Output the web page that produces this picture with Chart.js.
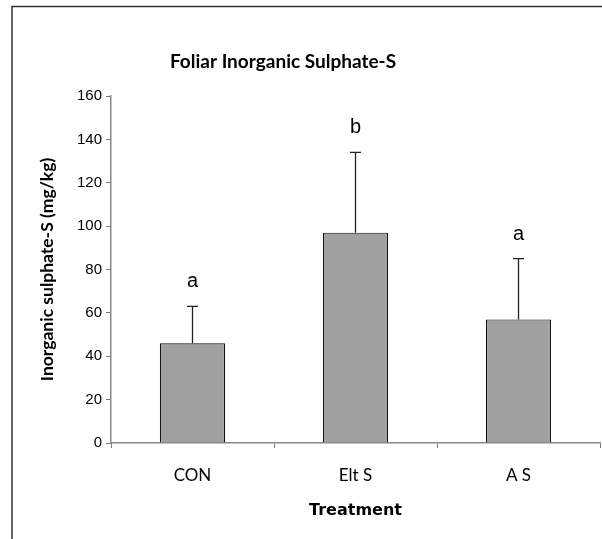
<!DOCTYPE html>
<html>
<head>
<meta charset="utf-8">
<script src="https://cdn.jsdelivr.net/npm/chart.js@4.4.1/dist/chart.umd.min.js"></script>
<style>
  html, body { margin: 0; padding: 0; background: #fff; }
  #wrap { width: 602px; height: 539px; }
</style>
</head>
<body>
<div id="wrap"><canvas id="bars" width="602" height="539"></canvas></div>
<script>
// data
var treatments = ['CON', 'Elt S', 'A S'];
var sulphate = [46, 97, 57];
var upperError = [17, 37, 28];
var letters = ['a', 'b', 'a'];

var uiFont = 'Lato, "Open Sans", sans-serif';
var tickFont = '"Liberation Sans", Arial, sans-serif';

// frame, title, error bars and significance letters
var extras = {
    id: 'extras',
    afterDatasetsDraw: function (chart) {
        var c = chart.ctx;
        var y = chart.scales.y;
        var meta = chart.getDatasetMeta(0);
        c.save();
        c.strokeStyle = '#222';
        c.lineWidth = 1.3;
        meta.data.forEach(function (bar, i) {
            var top = y.getPixelForValue(sulphate[i] + upperError[i]);
            var base = y.getPixelForValue(sulphate[i]);
            c.beginPath();
            c.moveTo(bar.x, base);
            c.lineTo(bar.x, top);
            c.moveTo(bar.x - 5.5, top);
            c.lineTo(bar.x + 5.5, top);
            c.stroke();
            c.fillStyle = '#000';
            c.font = '20px ' + tickFont;
            c.textAlign = 'center';
            c.textBaseline = 'alphabetic';
            c.fillText(letters[i], bar.x, top - 19);
        });
        c.restore();
    },
    afterDraw: function (chart) {
        var c = chart.ctx;
        c.save();
        c.strokeStyle = '#333';
        c.lineWidth = 1.5;
        c.beginPath();
        c.moveTo(12, 539);
        c.lineTo(12, 6.5);
        c.lineTo(602, 6.5);
        c.stroke();
        c.fillStyle = '#000';
        c.font = 'bold 19px ' + uiFont;
        c.textAlign = 'center';
        c.textBaseline = 'alphabetic';
        c.fillText('Foliar Inorganic Sulphate-S', 283, 68);
        c.restore();
    }
};

new Chart(document.getElementById('bars').getContext('2d'), {
    type: 'bar',
    data: {
        labels: treatments,
        datasets: [{
            data: sulphate,
            backgroundColor: '#a0a0a0',
            borderColor: '#111',
            borderWidth: 1.2,
            barPercentage: 0.4,
            categoryPercentage: 1
        }]
    },
    options: {
        responsive: false,
        animation: false,
        layout: { padding: { top: 96, left: 30, right: 2, bottom: 0 } },
        plugins: {
            legend: { display: false },
            tooltip: { enabled: false }
        },
        scales: {
            x: {
                grid: { offset: true, drawOnChartArea: false, drawTicks: true, tickLength: 5, color: '#777' },
                border: { color: '#888', width: 1.5 },
                ticks: { color: '#000', padding: 17, font: { family: uiFont, size: 17 } },
                title: { display: true, text: 'Treatment', color: '#000', padding: { bottom: 19 }, font: { family: '"DejaVu Sans", sans-serif', size: 16, weight: 'bold' } },
                afterFit: function (s) { s.height = 539 - 443; }
            },
            y: {
                min: 0,
                max: 160,
                ticks: { stepSize: 20, color: '#000', padding: 4, font: { family: tickFont, size: 15 } },
                grid: { drawOnChartArea: false, drawTicks: true, tickLength: 5, color: '#777' },
                border: { color: '#888', width: 1.5 },
                title: { display: true, text: 'Inorganic sulphate-S (mg/kg)', color: '#000', padding: { top: 6.5 }, font: { family: uiFont, size: 17.5, weight: 'bold' } },
                afterFit: function (s) { s.width = 111 - 30; }
            }
        }
    },
    plugins: [extras]
});
</script>
</body>
</html>
